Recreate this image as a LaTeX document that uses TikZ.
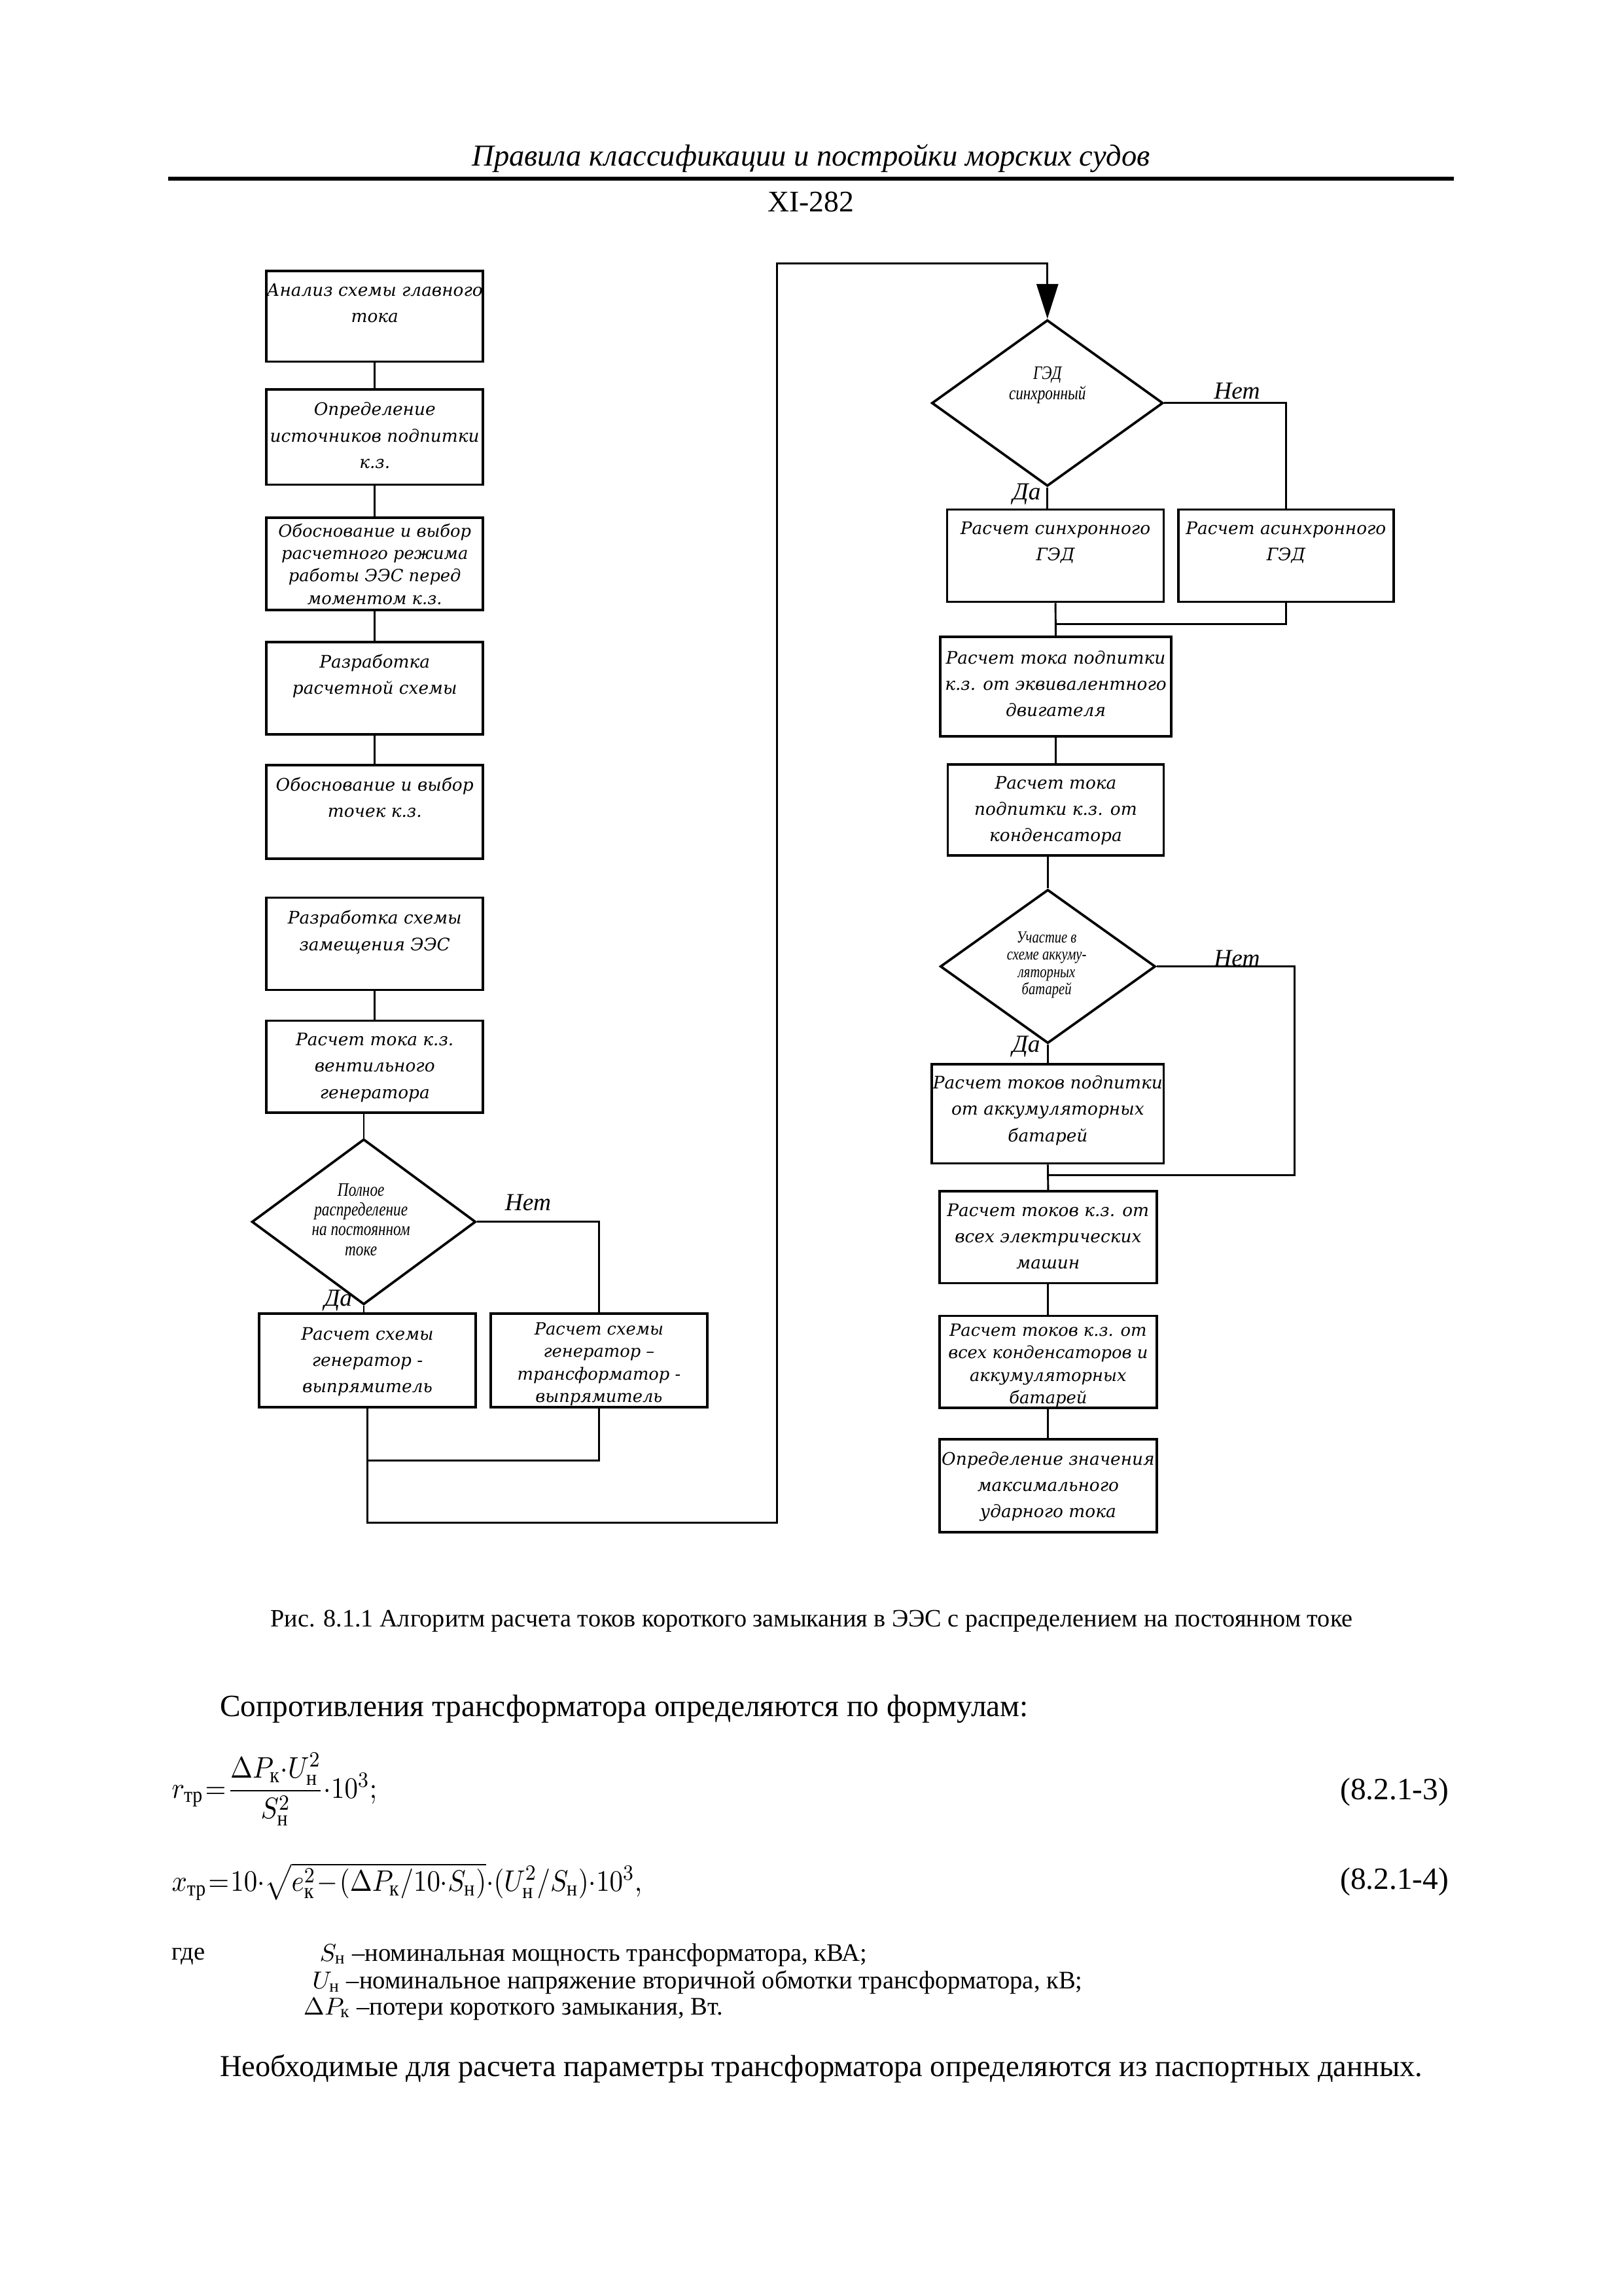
\documentclass[tikz,border=0pt]{standalone}
\usepackage{fontspec}
\usepackage{amsmath}
\usepackage{graphicx}
\setmainfont{Liberation Serif}
\newfontfamily\boxfont{DejaVu Serif}
\newfontfamily\narrowfont[FakeStretch=0.8]{Liberation Serif}
\usetikzlibrary{positioning,arrows.meta,shapes.geometric}

\begin{document}
\begin{tikzpicture}[
  x=0.018936cm, y=-0.018936cm,
  sz/.style 2 args={minimum width=#1*0.018936cm, minimum height=#2*0.018936cm},
  box/.style={draw, line width=0.9pt, inner sep=0pt},
  btxt/.style={anchor=north, align=center, inner sep=0pt,
    font=\boxfont\itshape\fontsize{6.35}{9.7}\selectfont},
  btxtiv/.style={btxt, font=\boxfont\itshape\fontsize{6.2}{8.3}\selectfont},
  dia/.style={diamond, draw, line width=0.9pt, inner sep=0pt},
  dtxt/.style={align=center, inner sep=0pt, font=\narrowfont\itshape\fontsize{7}{7.3}\selectfont},
  yn/.style={inner sep=0pt, font=\itshape\fontsize{9}{10}\selectfont},
  conn/.style={line width=0.7pt},
  body/.style={inner sep=0pt, font=\fontsize{11.4}{13}\selectfont},
  small/.style={inner sep=0pt, font=\fontsize{9.3}{11}\selectfont},
  >={Triangle[length=4.5mm,width=2.8mm]}
]
\useasboundingbox (0,0) rectangle (1109,1568);

% ---------------------------------------------------------------- page head
\node[inner sep=0pt, font=\itshape\fontsize{11.2}{13}\selectfont] (hdr) at (554,108)
  {Правила классификации и постройки морских судов};
\coordinate (ruleL) at (115,122);
\coordinate (ruleR) at (993,122);
\draw[line width=1.6pt] (ruleL) -- (ruleR);
\node[inner sep=0pt, font=\fontsize{11}{13}\selectfont] (pg) at (554,138) {XI-282};

% ---------------------------------------------------------------- left column
\node[box, sz={148}{62}] (anal) at (256,216) {};
\node[btxt, below=4.8pt of anal.north] (t-anal) {Анализ схемы главного\\тока};
\node[box, sz={148}{65}] (srcs) at (256,298.5) {};
\node[btxt, below=5pt of srcs.north] (t-srcs) {Определение\\источников подпитки\\к.з.};
\node[box, sz={148}{63}] (mode) at (256,385) {};
\node[btxtiv, below=2.4pt of mode.north] (t-mode) {Обоснование и выбор\\расчетного режима\\работы ЭЭС перед\\моментом к.з.};
\node[box, sz={148}{63}] (calc) at (256,470) {};
\node[btxt, below=4.8pt of calc.north] (t-calc) {Разработка\\расчетной схемы};
\node[box, sz={148}{64}] (pts) at (256,554.5) {};
\node[btxt, below=4.8pt of pts.north] (t-pts) {Обоснование и выбор\\точек к.з.};
\node[box, sz={148}{63}] (subst) at (256,644.5) {};
\node[btxt, below=5pt of subst.north] (t-subst) {Разработка схемы\\замещения ЭЭС};
\node[box, sz={148}{63}] (venti) at (256,728.5) {};
\node[btxt, below=4.8pt of venti.north] (t-venti) {Расчет тока к.з.\\вентильного\\генератора};

\draw[conn] (anal.south) -- (srcs.north);
\draw[conn] (srcs.south) -- (mode.north);
\draw[conn] (mode.south) -- (calc.north);
\draw[conn] (calc.south) -- (pts.north);
\draw[conn] (subst.south) -- (venti.north);

% decision: full DC distribution
\node[dia, sz={153}{113}] (full) at (248.5,834.4) {};
\node[dtxt] (q-full) at (246.6,832.8) {Полное\\распределение\\на постоянном\\токе};
\draw[conn] (full.north |- venti.south) -- (full.north);
\node[yn] (no-full) at (360.7,821.5) {Нет};
\node[yn] (yes-full) at (231,888) {Да};

\node[box, sz={148}{64}] (genr) at (251,929) {};
\node[btxt, below=5.3pt of genr.north] (t-genr) {Расчет схемы\\генератор -\\выпрямитель};
\node[box, sz={148}{64}] (gtr) at (409.2,929) {};
\node[btxtiv, below=3.6pt of gtr.north] (t-gtr) {Расчет схемы\\генератор –\\трансформатор -\\выпрямитель};

\draw[conn] (full.south) -- (full.south |- genr.north);
\draw[conn] (full.east) -| (gtr.north);
\coordinate (joinL) at (251,997.6);
\draw[conn] (gtr.south) |- (joinL);
\coordinate (loopB) at (530.7,1040);
\coordinate (loopT) at (530.7,179.8);

% ---------------------------------------------------------------- right column
\node[dia, sz={158}{113.5}] (ged) at (715.5,275.25) {};
\node[dtxt] (q-ged) at (715.5,263) {ГЭД\\синхронный};
\node[yn] (no-ged) at (845,267) {Нет};
\node[yn] (yes-ged) at (701.4,337.6) {Да};
\draw[conn, ->] (genr.south) |- (loopB) -- (loopT) -| (ged.north);

\node[box, sz={148}{63}] (sync) at (721,379.5) {};
\node[btxt, below=4.8pt of sync.north] (t-sync) {Расчет синхронного\\ГЭД};
\node[box, sz={147}{63}] (async) at (878.5,379.5) {};
\node[btxt, below=4.8pt of async.north] (t-async) {Расчет асинхронного\\ГЭД};

\draw[conn] (ged.south) -- (ged.south |- sync.north);
\draw[conn] (ged.east) -| (async.north);

\node[box, sz={157.6}{68}] (eqv) at (721.2,469) {};
\node[btxt, below=5.3pt of eqv.north] (t-eqv) {Расчет тока подпитки\\к.з. от эквивалентного\\двигателя};
\coordinate (joinG) at (721,426);
\draw[conn] (sync.south) -- (eqv.north);
\draw[conn] (async.south) |- (joinG);

\node[box, sz={147.6}{62}] (cond) at (721.2,553.2) {};
\node[btxt, below=4.5pt of cond.north] (t-cond) {Расчет тока\\подпитки к.з. от\\конденсатора};
\draw[conn] (eqv.south) -- (cond.north);

\node[dia, sz={147}{105}] (akk) at (715.8,660) {};
\node[dtxt, font=\narrowfont\itshape\fontsize{6.2}{6.4}\selectfont] (q-akk) at (715,659)
  {Участие в\\схеме аккуму-\\ляторных\\батарей};
\node[yn] (no-akk) at (845,654.4) {Нет};
\node[yn] (yes-akk) at (701,714.7) {Да};
\draw[conn] (akk.north |- cond.south) -- (akk.north);

\node[box, sz={158.4}{67.8}] (batt) at (715.8,760.6) {};
\node[btxt, below=4.5pt of batt.north] (t-batt) {Расчет токов подпитки\\от аккумуляторных\\батарей};
\draw[conn] (akk.south) -- (batt.north);
\coordinate (joinBr) at (884.5,802.4);
\coordinate (joinB) at (715.8,802.4);
\draw[conn] (akk.east) -| (joinBr) -- (joinB);

\node[box, sz={148.4}{62.8}] (allm) at (716,844.9) {};
\node[btxt, below=4.8pt of allm.north] (t-allm) {Расчет токов к.з. от\\всех электрических\\машин};
\node[box, sz={148.4}{62.8}] (allc) at (716,930) {};
\node[btxtiv, below=3.2pt of allc.north] (t-allc) {Расчет токов к.з. от\\всех конденсаторов и\\аккумуляторных\\батарей};
\node[box, sz={148.4}{63.4}] (peak) at (716,1014.7) {};
\node[btxt, below=4.8pt of peak.north] (t-peak) {Определение значения\\максимального\\ударного тока};

\draw[conn] (batt.south) -- (allm.north);
\draw[conn] (allm.south) -- (allc.north);
\draw[conn] (allc.south) -- (peak.north);

% ---------------------------------------------------------------- text below
\node[small, font=\fontsize{9.2}{11}\selectfont] (cap) at (554.5,1107)
  {Рис. 8.1.1 Алгоритм расчета токов короткого замыкания в ЭЭС с распределением на постоянном токе};
\node[body, anchor=west] (intro) at (150,1167) {Сопротивления трансформатора определяются по формулам:};
\node[body, anchor=west] (frm1) at (117,1222)
  {\scalebox{0.9}[1]{$r_{\text{тр}}\mkern1mu{=}\mkern1mu\dfrac{\Delta P_{\text{к}}{\cdot}U_{\text{н}}^{2}}{S_{\text{н}}^{2}}{\cdot}10^{3};$}};
\node[body, anchor=east] (num1) at (990,1224) {(8.2.1-3)};
\node[body, anchor=west] (frm2) at (117,1285)
  {\scalebox{0.9}[1]{$x_{\text{тр}}\mkern1mu{=}\mkern1mu10{\cdot}\sqrt{e_{\text{к}}^{2}\mkern1mu{-}\mkern1mu(\Delta P_{\text{к}}/10{\cdot}S_{\text{н}})}{\cdot}(U_{\text{н}}^{2}/S_{\text{н}}){\cdot}10^{3},$}};
\node[body, anchor=east] (num2) at (990,1285) {(8.2.1-4)};
\node[small, anchor=west] (where) at (117,1336) {где};
\node[small, anchor=west] (defS) at (218,1335) {$S_{\text{н}}$ –номинальная мощность трансформатора, кВА;};
\node[small, anchor=west] (defU) at (213,1354) {$U_{\text{н}}$ –номинальное напряжение вторичной обмотки трансформатора, кВ;};
\node[small, anchor=west] (defP) at (207,1372) {$\Delta P_{\text{к}}$ –потери короткого замыкания, Вт.};
\node[body, anchor=west, font=\fontsize{11.2}{13}\selectfont] (tail) at (150,1413)
  {Необходимые для расчета параметры трансформатора определяются из паспортных данных.};
\end{tikzpicture}
\end{document}
